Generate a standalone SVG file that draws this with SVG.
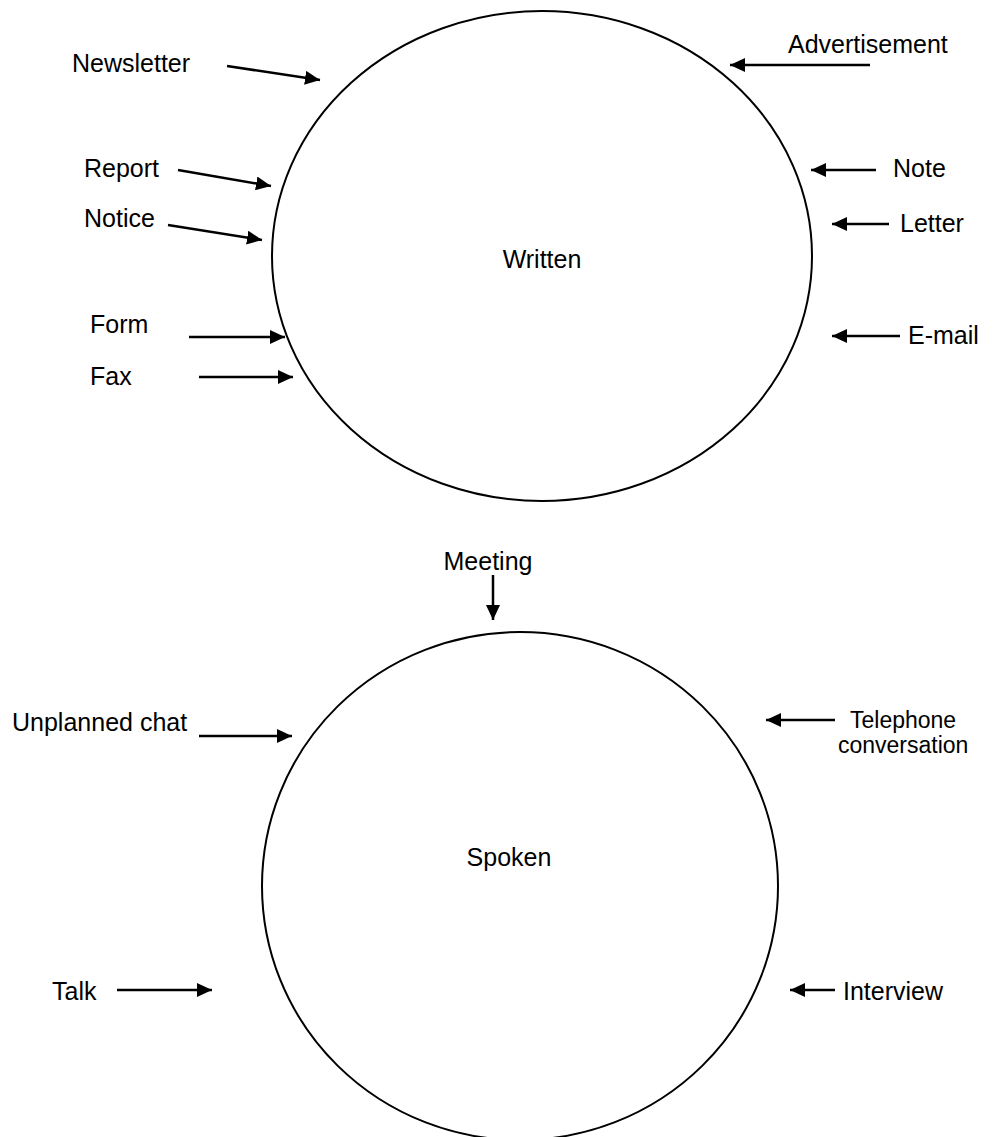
<svg xmlns="http://www.w3.org/2000/svg" width="1008" height="1137" viewBox="0 0 1008 1137">
<defs>
<marker id="ah" markerUnits="userSpaceOnUse" markerWidth="16" markerHeight="14" refX="15" refY="7" orient="auto">
<path d="M0,0 L15,7 L0,14 Z" fill="#000"/>
</marker>
<style>
text{font-family:"Liberation Sans",Arial,sans-serif;font-size:25px;fill:#000}
.small{font-size:23px}
.ell{fill:none;stroke:#000;stroke-width:2}
.arr{stroke:#000;stroke-width:2.5;fill:none;marker-end:url(#ah)}
</style>
</defs>
<rect width="1008" height="1137" fill="#fff"/>
<g id="written"><ellipse class="ell" cx="542" cy="256" rx="270" ry="245"/><text x="542" y="268" text-anchor="middle">Written</text></g>
<g id="spoken"><ellipse class="ell" cx="520" cy="886" rx="258" ry="254"/><text x="509" y="866" text-anchor="middle">Spoken</text></g>
<g id="newsletter"><text x="72" y="72">Newsletter</text></g>
<g id="advertisement"><text x="788" y="53">Advertisement</text></g>
<g id="report"><text x="84" y="177">Report</text></g>
<g id="notice"><text x="84" y="227">Notice</text></g>
<g id="form"><text x="90" y="333">Form</text></g>
<g id="fax"><text x="90" y="385">Fax</text></g>
<g id="note"><text x="893" y="177">Note</text></g>
<g id="letter"><text x="900" y="232">Letter</text></g>
<g id="email"><text x="908" y="344">E-mail</text></g>
<g id="meeting"><text x="488" y="570" text-anchor="middle">Meeting</text></g>
<g id="unplanned"><text x="12" y="731">Unplanned chat</text></g>
<g id="telephone"><text class="small" x="850" y="728">Telephone</text><text class="small" x="838" y="753">conversation</text></g>
<g id="talk"><text x="52" y="1000">Talk</text></g>
<g id="interview"><text x="843" y="1000">Interview</text></g>
<g id="connectors">
<line class="arr" x1="227" y1="66" x2="320" y2="80"/>
<line class="arr" x1="870" y1="65" x2="730" y2="65"/>
<line class="arr" x1="178" y1="170" x2="271" y2="186"/>
<line class="arr" x1="168" y1="225" x2="262" y2="240"/>
<line class="arr" x1="189" y1="337" x2="285" y2="337"/>
<line class="arr" x1="199" y1="377" x2="293" y2="377"/>
<line class="arr" x1="876" y1="170" x2="811" y2="170"/>
<line class="arr" x1="889" y1="224" x2="832" y2="224"/>
<line class="arr" x1="900" y1="336" x2="832" y2="336"/>
<line class="arr" x1="493" y1="575" x2="493" y2="620"/>
<line class="arr" x1="199" y1="736" x2="292" y2="736"/>
<line class="arr" x1="835" y1="720" x2="766" y2="720"/>
<line class="arr" x1="117" y1="990" x2="212" y2="990"/>
<line class="arr" x1="835" y1="990" x2="790" y2="990"/>
</g>
</svg>
